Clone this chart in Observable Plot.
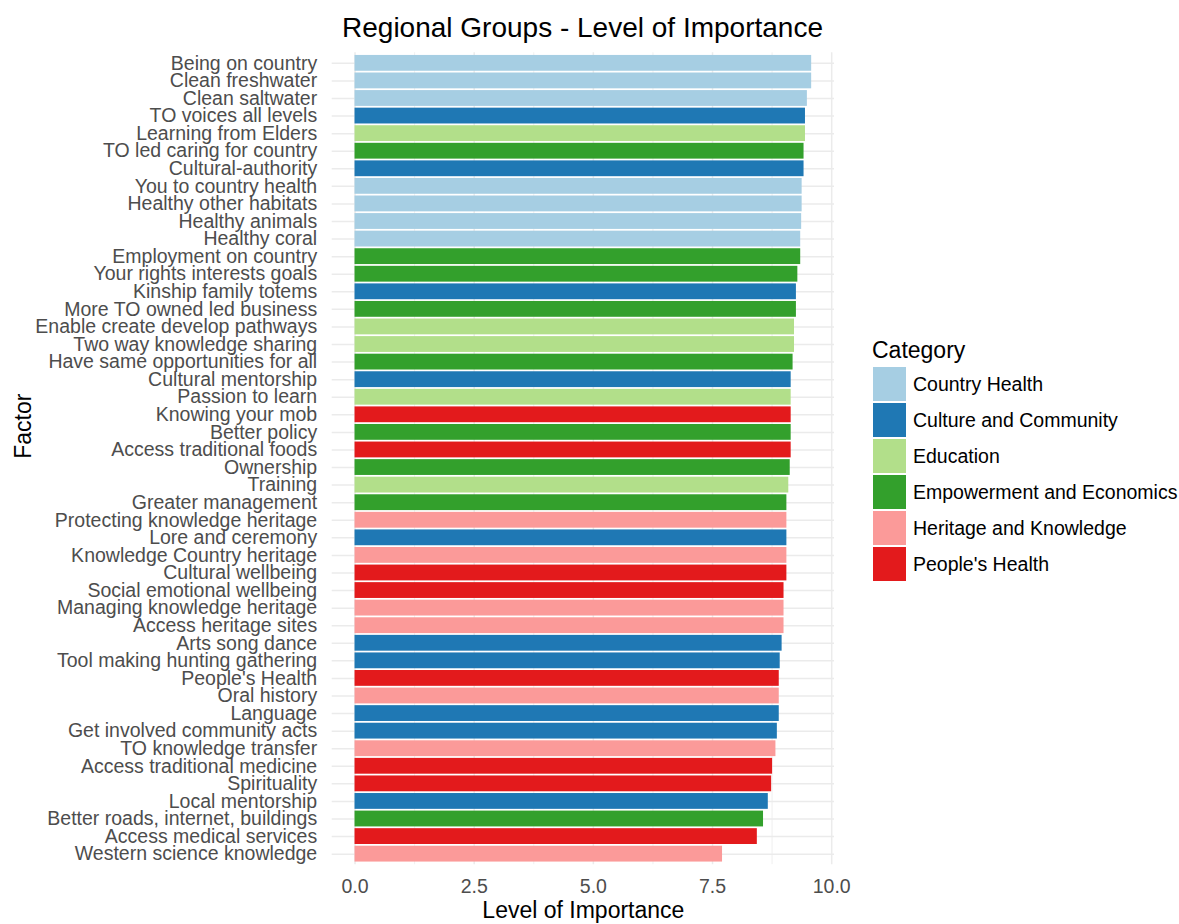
<!DOCTYPE html>
<html><head><meta charset="utf-8">
<script src="https://cdn.jsdelivr.net/npm/d3@7"></script>
<script src="https://cdn.jsdelivr.net/npm/@observablehq/plot@0.6"></script>
<style>
body{margin:0;background:#fff;font-family:"Liberation Sans",Arial,sans-serif;}
#wrap{position:relative;width:1179px;height:924px;overflow:hidden;}
#chart svg{display:block;}
#title{position:absolute;left:331px;width:503px;top:10px;text-align:center;font-size:28px;line-height:36px;color:#000;white-space:nowrap;}
#legend{position:absolute;left:872px;top:336px;}
#legend .lt{font-size:23px;line-height:28px;height:30px;color:#000;}
#legend .row{display:flex;align-items:center;height:36px;}
#legend .sw{width:33px;height:34px;margin-left:1px;}
#legend .lab{margin-left:7px;font-size:19.5px;color:#000;white-space:nowrap;}
</style>
</head><body>
<div id="wrap">
<div id="chart"></div>
<div id="title">Regional Groups - Level of Importance</div>
<div id="legend"></div>
</div>
<script>
const factors = [
 "Being on country","Clean freshwater","Clean saltwater","TO voices all levels","Learning from Elders",
 "TO led caring for country","Cultural-authority","You to country health","Healthy other habitats","Healthy animals",
 "Healthy coral","Employment on country","Your rights interests goals","Kinship family totems","More TO owned led business",
 "Enable create develop pathways","Two way knowledge sharing","Have same opportunities for all","Cultural mentorship","Passion to learn",
 "Knowing your mob","Better policy","Access traditional foods","Ownership","Training",
 "Greater management","Protecting knowledge heritage","Lore and ceremony","Knowledge Country heritage","Cultural wellbeing",
 "Social emotional wellbeing","Managing knowledge heritage","Access heritage sites","Arts song dance","Tool making hunting gathering",
 "People's Health","Oral history","Language","Get involved community acts","TO knowledge transfer",
 "Access traditional medicine","Spirituality","Local mentorship","Better roads, internet, buildings","Access medical services",
 "Western science knowledge"
];
const values = [
 9.58, 9.58, 9.49, 9.45, 9.45,
 9.42, 9.42, 9.38, 9.38, 9.37,
 9.35, 9.35, 9.29, 9.26, 9.26,
 9.22, 9.22, 9.19, 9.15, 9.15,
 9.15, 9.15, 9.15, 9.13, 9.10,
 9.06, 9.06, 9.06, 9.06, 9.06,
 9.00, 9.00, 9.00, 8.96, 8.92,
 8.90, 8.90, 8.90, 8.86, 8.83,
 8.76, 8.74, 8.67, 8.57, 8.44,
 7.71
];
const CH="Country Health", CC="Culture and Community", ED="Education", EM="Empowerment and Economics", HK="Heritage and Knowledge", PH="People's Health";
const categories = [
 CH, CH, CH, CC, ED,
 EM, CC, CH, CH, CH,
 CH, EM, EM, CC, EM,
 ED, ED, EM, CC, ED,
 PH, EM, PH, EM, ED,
 EM, HK, CC, HK, PH,
 PH, HK, HK, CC, CC,
 PH, HK, CC, CC, HK,
 PH, PH, CC, EM, PH,
 HK
];
const catNames = [CH, CC, ED, EM, HK, PH];
const catColors = ["#A6CEE3","#1F78B4","#B2DF8A","#33A02C","#FB9A99","#E31A1C"];
const xTicks = [0, 2.5, 5, 7.5, 10];
const xMinor = [1.25, 3.75, 6.25, 8.75];

const data = factors.map((f, i) => ({factor: f, value: values[i], category: categories[i]}));

const chart = Plot.plot({
  width: 1179, height: 924,
  marginLeft: 331.7, marginRight: 345, marginTop: 52.3, marginBottom: 59.8,
  style: {fontFamily: "'Liberation Sans', Arial, sans-serif", background: "transparent"},
  x: {domain: [-0.479, 10.059], label: null},
  y: {domain: factors, paddingInner: 0.1, paddingOuter: 0.15, round: false, label: null},
  color: {domain: catNames, range: catColors},
  marks: [
    Plot.gridX(xMinor, {stroke: "#EEEEEE", strokeOpacity: 1, strokeWidth: 0.9}),
    Plot.gridX(xTicks, {stroke: "#EBEBEB", strokeOpacity: 1, strokeWidth: 1.5}),
    Plot.gridY(factors, {stroke: "#EBEBEB", strokeOpacity: 1, strokeWidth: 1.5}),
    Plot.barX(data, {x: "value", y: "factor", fill: "category"}),
    Plot.axisX(xTicks, {tickSize: 0, tickPadding: 14, tickFormat: d => d.toFixed(1), fontSize: 19.5, color: "#4D4D4D", label: null}),
    Plot.axisY({tickSize: 0, tickPadding: 15, fontSize: 19.5, color: "#4D4D4D", label: null}),
    Plot.text(["Level of Importance"], {frameAnchor: "bottom", dy: 53, fontSize: 23, fill: "#000"}),
    Plot.text(["Factor"], {frameAnchor: "left", dx: -309, rotate: -90, fontSize: 23, fill: "#000"})
  ]
});
document.getElementById("chart").appendChild(chart);

const lg = document.getElementById("legend");
const t = document.createElement("div"); t.className = "lt"; t.textContent = "Category"; lg.appendChild(t);
catNames.forEach((c, i) => {
  const r = document.createElement("div"); r.className = "row";
  const s = document.createElement("div"); s.className = "sw"; s.style.background = catColors[i];
  const l = document.createElement("div"); l.className = "lab"; l.textContent = c;
  r.appendChild(s); r.appendChild(l); lg.appendChild(r);
});
</script>
</body></html>
